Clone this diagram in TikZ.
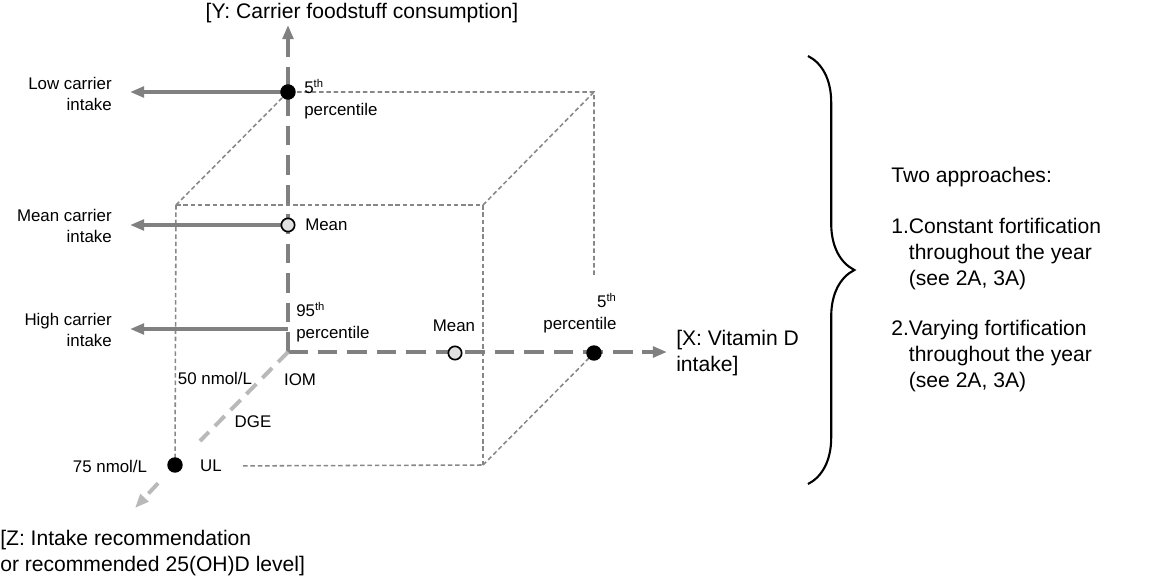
\documentclass[tikz,border=0pt]{standalone}
\usepackage{fontspec}
\setmainfont{Liberation Sans}
\usetikzlibrary{arrows.meta,decorations.pathreplacing}
\definecolor{axisgray}{RGB}{128,128,128}
\definecolor{zgray}{RGB}{185,185,185}
\definecolor{edgegray}{RGB}{135,135,135}

\begin{document}
\begin{tikzpicture}[x=0.025cm, y=-0.025cm,
        axline/.style={draw=axisgray, line width=2.8pt, dash pattern=on 14pt off 7pt},
        zline/.style={draw=zgray, line width=2.8pt, dash pattern=on 10pt off 6pt},
        leadline/.style={draw=axisgray, line width=2.6pt},
        axtip/.style={-{Triangle[length=10pt,width=7.5pt]}},
        edgeline/.style={draw=edgegray, line width=1.1pt, dash pattern=on 3.2pt off 2pt},
        fulldot/.style={circle, fill=black, inner sep=0pt, minimum size=11pt},
        opendot/.style={circle, fill=black!12, draw=black, line width=1.2pt, inner sep=0pt, minimum size=9.5pt},
        lbl/.style={font=\fontsize{12}{15.5}\selectfont, inner sep=0pt},
        biglbl/.style={font=\fontsize{15}{18.5}\selectfont, inner sep=0pt}]
        \useasboundingbox (0,0) rectangle (1162,580);

        \coordinate (O) at (288,352);
        \coordinate (ytip) at (288,25);
        \coordinate (xtip) at (667,352);
        \coordinate (zmid) at (200,441);
        \coordinate (ztip) at (135,508);
        \coordinate (ylow) at (288,92);
        \coordinate (ymean) at (288,225);
        \coordinate (yhigh) at (288,329);
        \coordinate (xmean) at (455,353);
        \coordinate (xlow) at (594,353);
        \coordinate (zul) at (175,465);
        \coordinate (ftl) at (176,205);
        \coordinate (ftr) at (483,205);
        \coordinate (fbr) at (483,465);
        \coordinate (btr) at (594,92);
        \coordinate (bend) at (594,277);
        \coordinate (lowtip) at (130,92);
        \coordinate (meantip) at (130,225);
        \coordinate (hightip) at (130,329);
        \coordinate (bracetop) at (808,56);
        \coordinate (bracebot) at (808,484);

        \draw[edgeline] (ftl) -- (ftr) -- (fbr);
        \draw[edgeline] (ftl) -- (zul);
        \draw[edgeline] (ftl) -- (ylow) -- (btr) -- (bend);
        \draw[edgeline] (ftr) -- (btr);
        \draw[edgeline] (fbr) -- (xlow);

        \draw[axline, axtip] (O) -- (ytip);
        \draw[axline, axtip] (O) -- (xtip);
        \draw[zline] (O) -- (zmid);
        \draw[leadline, axtip] (ylow) -- (lowtip);
        \draw[leadline, axtip] (ymean) -- (meantip);
        \draw[leadline, axtip] (yhigh) -- (hightip);

        \node[fulldot] (low) at (ylow) {};
        \node[opendot] (mean) at (ymean) {};
        \node[opendot] (xm) at (xmean) {};
        \node[fulldot] (xl) at (xlow) {};
        \node[fulldot] (ul) at (zul) {};
        \draw[zline, axtip, shorten <=12pt] (ul) -- (ztip);

        \node[lbl, anchor=west, align=left] (lowtxt) at (304,99) {5\textsuperscript{th}\\percentile};
        \node[lbl, anchor=west] (meantxt) at (305,225) {Mean};
        \node[lbl, anchor=west, align=left] (hightxt) at (296,322) {95\textsuperscript{th}\\percentile};
        \node[lbl] (xmtxt) at (454,326) {Mean};
        \node[lbl, align=right] (xltxt) at (580,313) {5\textsuperscript{th}\\percentile};
        \node[lbl, anchor=east, align=right] (lowcar) at (112,94) {Low carrier\\intake};
        \node[lbl, anchor=east, align=right] (meancar) at (112,226) {Mean carrier\\intake};
        \node[lbl, anchor=east, align=right] (highcar) at (112,330) {High carrier\\intake};
        \node[lbl] (fifty) at (215,378) {50 nmol/L};
        \node[lbl] (iom) at (300,380) {IOM};
        \node[lbl] (dge) at (253,422) {DGE};
        \node[lbl] (seventy) at (110,466) {75 nmol/L};
        \node[lbl] (ultxt) at (211,466) {UL};
        \draw[edgeline, shorten <=15pt] (ultxt) -- (fbr);

        \node[biglbl] (ylab) at (362,13) {[Y: Carrier foodstuff consumption]};
        \node[biglbl, anchor=west, align=left] (xlab) at (676,353) {[X: Vitamin D\\intake]};
        \node[biglbl, anchor=west, align=left] (zlab) at (0,553) {[Z: Intake recommendation\\or recommended 25(OH)D level]};

        \draw[decorate, decoration={brace, amplitude=33pt}, line width=1.5pt] (bracetop) -- (bracebot);
        \node[biglbl, anchor=west] (two) at (891,177) {Two approaches:};
        \node[biglbl, anchor=west, align=left] (first) at (891,254) {1.Constant fortification\\\phantom{1.}throughout the year\\\phantom{1.}(see 2A, 3A)};
        \node[biglbl, anchor=west, align=left] (second) at (891,356) {2.Varying fortification\\\phantom{2.}throughout the year\\\phantom{2.}(see 2A, 3A)};
\end{tikzpicture}
\end{document}
